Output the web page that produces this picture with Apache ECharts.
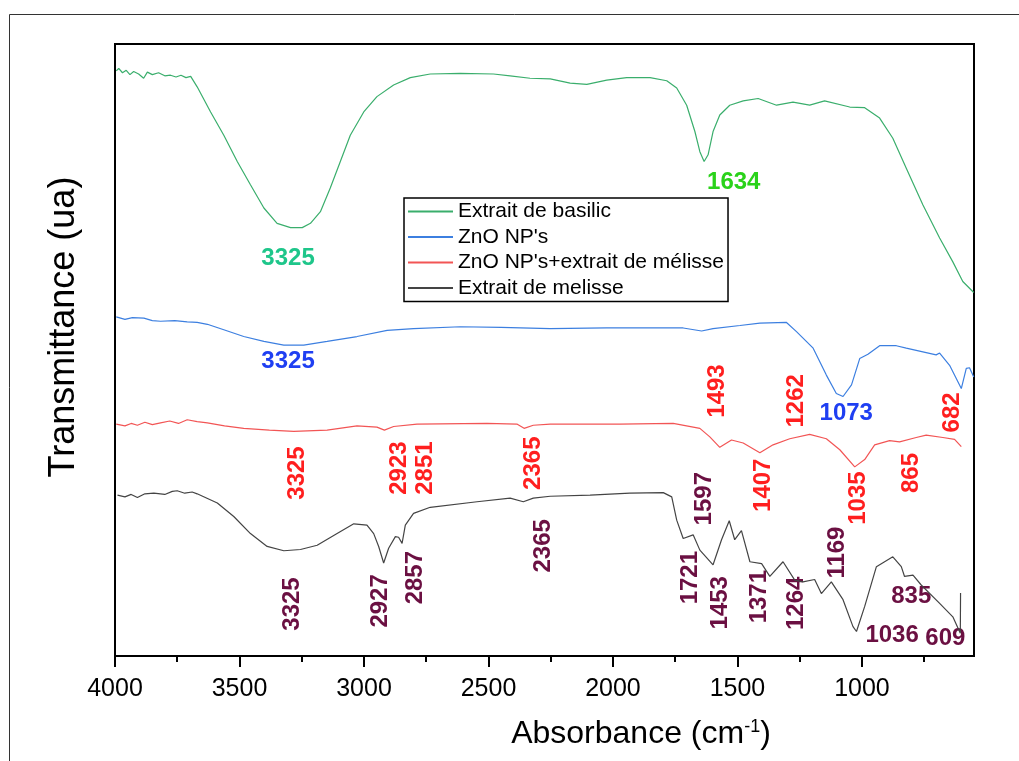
<!DOCTYPE html>
<html>
<head>
<meta charset="utf-8">
<script src="https://cdn.jsdelivr.net/npm/echarts@6/dist/echarts.min.js"></script>
<style>
  html, body { margin: 0; padding: 0; background: #fff; }
  #chart { width: 1019px; height: 761px; }
</style>
</head>
<body>
<div id="chart"></div>
<script>
// wavenumber (cm-1), transmittance (ua, 0-100 scale)
const basilic = [[3995,95.6],[3985,96.0],[3970,95.3],[3955,95.7],[3940,95.0],[3925,95.5],[3905,95.1],[3885,94.4],[3870,95.4],[3850,95.0],[3825,95.3],[3800,94.8],[3777,94.9],[3755,94.6],[3735,94.9],[3715,94.5],[3696,94.7],[3670,93.0],[3616,88.9],[3563,85.1],[3509,80.8],[3456,77.0],[3402,73.2],[3349,70.7],[3295,70.0],[3248,70.0],[3215,70.7],[3175,72.6],[3135,76.5],[3095,80.8],[3055,85.1],[3001,88.9],[2948,91.4],[2881,93.3],[2814,94.5],[2734,95.1],[2613,95.2],[2480,95.1],[2413,94.8],[2333,94.4],[2252,94.3],[2172,93.6],[2105,93.4],[2025,94.1],[1945,94.5],[1851,94.5],[1784,94.0],[1744,92.8],[1704,90.0],[1671,85.7],[1651,82.4],[1634,80.8],[1618,81.9],[1598,85.7],[1571,88.4],[1531,90.0],[1477,90.7],[1417,91.1],[1343,90.0],[1277,90.5],[1210,90.0],[1150,90.7],[1049,89.7],[989,89.6],[929,87.9],[876,84.6],[822,79.7],[755,73.7],[688,68.3],[635,64.4],[595,61.2],[551,59.4]];
const zno = [[3995,55.4],[3960,55.0],[3930,55.3],[3884,55.2],[3850,54.8],[3817,54.7],[3760,54.8],[3710,54.6],[3670,54.5],[3629,54.2],[3563,53.3],[3483,52.2],[3402,51.4],[3322,50.8],[3242,50.8],[3148,51.4],[3028,52.2],[2907,53.2],[2801,53.5],[2613,53.8],[2450,53.7],[2252,53.5],[2025,53.6],[1850,53.6],[1718,53.6],[1644,53.1],[1598,53.5],[1490,54.0],[1410,54.4],[1303,54.5],[1263,53.0],[1196,50.3],[1143,45.9],[1103,42.9],[1076,42.4],[1042,44.3],[1009,48.6],[976,49.3],[929,50.7],[862,50.7],[822,50.3],[702,49.2],[688,49.5],[648,47.5],[601,43.7],[581,47.0],[568,47.1],[551,45.6]];
const znoMelisse = [[3995,37.9],[3960,37.6],[3935,38.0],[3910,37.7],[3880,38.2],[3850,37.8],[3817,38.1],[3780,38.4],[3745,38.0],[3710,38.6],[3670,38.3],[3629,38.1],[3560,37.6],[3483,37.2],[3380,36.9],[3282,36.7],[3148,36.9],[3028,37.6],[2948,37.4],[2918,36.9],[2881,37.5],[2787,37.9],[2506,38.0],[2386,37.9],[2357,37.2],[2320,37.7],[2252,37.9],[1972,37.9],[1758,38.0],[1651,37.2],[1611,35.8],[1571,34.1],[1524,35.3],[1477,34.8],[1410,33.2],[1357,34.5],[1290,35.5],[1210,36.2],[1143,35.5],[1089,33.7],[1029,30.9],[989,32.1],[949,34.5],[889,35.2],[849,35.0],[782,35.7],[742,36.1],[675,35.7],[628,35.4],[601,34.2]];
const melisse = [[3990,26.3],[3960,26.0],[3935,26.4],[3910,25.9],[3880,26.5],[3844,26.6],[3800,26.4],[3770,26.9],[3750,27.0],[3720,26.6],[3690,26.8],[3670,26.5],[3589,25.0],[3523,22.8],[3456,20.0],[3389,17.9],[3322,17.2],[3255,17.4],[3188,18.1],[3108,20.0],[3041,21.6],[2988,21.4],[2961,20.0],[2941,17.9],[2921,15.2],[2901,17.6],[2874,19.5],[2861,19.4],[2847,18.4],[2834,21.4],[2801,23.3],[2734,24.3],[2546,25.2],[2413,25.8],[2360,25.2],[2320,25.8],[2252,26.1],[2092,26.3],[1932,26.6],[1798,26.7],[1764,26.0],[1744,22.2],[1718,19.2],[1678,19.8],[1651,17.3],[1598,14.9],[1564,19.0],[1533,22.1],[1511,19.0],[1484,20.5],[1450,15.4],[1403,15.1],[1370,13.0],[1317,15.4],[1270,12.4],[1237,12.1],[1190,12.5],[1163,10.2],[1123,12.1],[1076,9.2],[1036,4.8],[1022,4.0],[989,8.1],[942,14.6],[876,16.2],[842,14.6],[829,13.0],[795,13.2],[762,11.6],[688,8.6],[635,6.4],[605,3.7],[604,10.3]];

// peak annotations: [wavenumber, transmittance, text]
const basilicPeakA = [[3305, 64.9, '3325']];
const basilicPeakB = [[1515, 77.4, '1634']];
const znoPeaks = [[3305, 48.2, '3325'], [1063, 39.7, '1073']];
const mixPeaks = [[3267, 29.9, '3325'], [2858, 30.7, '2923'], [2754, 30.7, '2851'], [2320, 31.5, '2365'], [1581, 43.3, '1493'], [1263, 41.7, '1262'], [635, 39.8, '682'], [1397, 27.9, '1407'], [1016, 25.8, '1035'], [802, 29.9, '865']];
const melissePeaksV = [[3289, 8.5, '3325'], [2933, 9.0, '2927'], [2794, 12.8, '2857'], [2279, 18.0, '2365'], [1631, 25.7, '1597'], [1691, 12.8, '1721'], [1570, 8.7, '1453'], [1411, 9.7, '1371'], [1263, 8.6, '1264'], [1099, 16.9, '1169']];
const melissePeaksH = [[802, 9.7, '835'], [879, 3.3, '1036'], [665, 2.9, '609']];

const xTicks = [4000, 3500, 3000, 2500, 2000, 1500, 1000];
const xMinorTicks = [3750, 3250, 2750, 2250, 1750, 1250, 750];

const names = ['Extrait de basilic', "ZnO NP's", "ZnO NP's+extrait de mélisse", 'Extrait de melisse'];

const FONT = '"Liberation Sans", Arial, sans-serif';

const lineSeries = (name, data, color) => ({
  name, type: 'line', data, showSymbol: false, symbol: 'none',
  lineStyle: { color, width: 1.2 }, itemStyle: { color },
  animation: false, silent: true
});

const peakSeries = (data, color, rotate) => ({
  type: 'scatter', data, symbolSize: 0, silent: true, animation: false,
  itemStyle: { color, opacity: 1 },
  label: {
    show: true, position: 'inside', rotate, opacity: 1,
    formatter: (p) => p.data[2],
    color, fontFamily: FONT, fontWeight: 'bold', fontSize: 24
  }
});

const myChart = echarts.init(document.getElementById('chart'));
const option = {
  backgroundColor: '#fff',
  animation: false,
  grid: {
    left: 115, right: 45, top: 44, bottom: 105,
    show: true, borderColor: '#000', borderWidth: 2, backgroundColor: 'transparent'
  },
  legend: {
    data: names, selectedMode: false,
    left: 404, top: 198, orient: 'vertical',
    icon: 'rect', itemWidth: 45, itemHeight: 2, itemGap: 4.5,
    padding: [3, 4, 3, 4],
    borderColor: '#000', borderWidth: 1.5, backgroundColor: '#fff',
    textStyle: { fontFamily: FONT, fontSize: 21, color: '#000', lineHeight: 20 }
  },
  xAxis: [
    {
      type: 'value', inverse: true, min: 550, max: 4000,
      name: 'Absorbance (cm{sup|-1})', nameLocation: 'middle', nameGap: 62,
      nameTextStyle: {
        fontFamily: FONT, fontSize: 32, color: '#000', padding: [0, 0, 0, 193],
        rich: { sup: { fontFamily: FONT, fontSize: 18, color: '#000', padding: [0, 0, 15, 0] } }
      },
      axisLine: { show: true, lineStyle: { color: '#000', width: 2 } },
      axisTick: { show: true, inside: false, length: 11, lineStyle: { width: 2, color: '#000' }, customValues: xTicks },
      axisLabel: { fontFamily: FONT, fontSize: 25, color: '#000', margin: 21, customValues: xTicks, formatter: (v) => String(v) },
      splitLine: { show: false }
    },
    {
      type: 'value', inverse: true, min: 550, max: 4000, position: 'bottom',
      axisLine: { show: false },
      axisTick: { show: true, inside: false, length: 6, lineStyle: { width: 2, color: '#000' }, customValues: xMinorTicks },
      axisLabel: { show: false },
      splitLine: { show: false }
    }
  ],
  yAxis: {
    type: 'value', min: 0, max: 100,
    name: 'Transmittance (ua)', nameLocation: 'middle', nameRotate: 90, nameGap: 33,
    nameTextStyle: { fontFamily: FONT, fontSize: 36, color: '#000', padding: [0, 0, 0, 46] },
    axisLine: { show: true, lineStyle: { color: '#000', width: 2 } },
    axisTick: { show: false },
    axisLabel: { show: false },
    splitLine: { show: false }
  },
  graphic: [{
    type: 'polyline', silent: true,
    shape: { points: [[9.5, 761], [9.5, 14.5], [1019, 14.5]] },
    style: { stroke: '#333', lineWidth: 1, fill: null }
  }],
  series: [
    lineSeries(names[0], basilic, '#3aae6c'),
    lineSeries(names[1], zno, '#3c7fe0'),
    lineSeries(names[2], znoMelisse, '#f25555'),
    lineSeries(names[3], melisse, '#444444'),
    peakSeries(basilicPeakA, '#1ec68a', 0),
    peakSeries(basilicPeakB, '#2ad21a', 0),
    peakSeries(znoPeaks, '#1f3ff2', 0),
    peakSeries(mixPeaks, '#ff1f1f', 90),
    peakSeries(melissePeaksV, '#6b1042', 90),
    peakSeries(melissePeaksH, '#6b1042', 0)
  ]
};
myChart.setOption(option);
window.addEventListener('resize', () => myChart.resize());
</script>
</body>
</html>
